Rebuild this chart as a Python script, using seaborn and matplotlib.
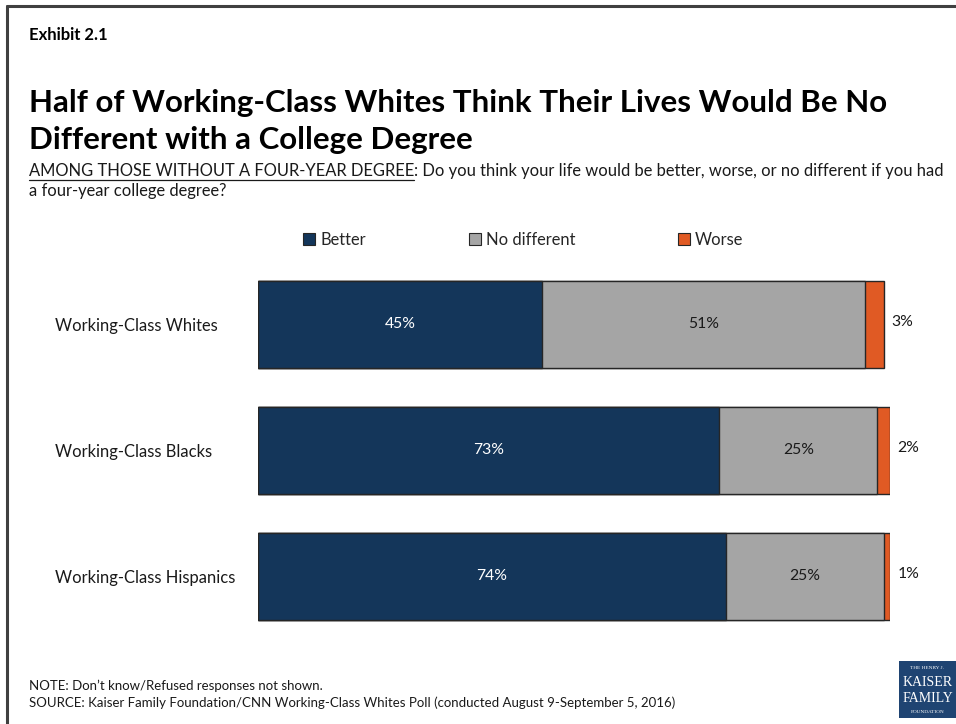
import matplotlib
matplotlib.use("Agg")
import matplotlib.pyplot as plt
from matplotlib.patches import Patch, Rectangle
from matplotlib.lines import Line2D
import seaborn as sns
import pandas as pd

groups = ["Working-Class Whites", "Working-Class Blacks", "Working-Class Hispanics"]
better = [45, 73, 74]
no_different = [51, 25, 25]
worse = [3, 2, 1]
series_names = ["Better", "No different", "Worse"]
colors = ["#14365A", "#A5A5A5", "#E05A24"]

sns.set_theme(style="white")
FONT = ["Lato", "DejaVu Sans"]
plt.rcParams["font.family"] = FONT

W, H = 956, 724
fig = plt.figure(figsize=(W / 100, H / 100), dpi=100)
renderer = fig.canvas.get_renderer()


def fx(px):
    return px / W


def fy(py):
    return 1 - py / H


def size_for(s, width_px, **kw):
    """Font size (pt) at which the string spans width_px pixels."""
    t = fig.text(0, 0, s, fontsize=10, **kw)
    w = t.get_window_extent(renderer=renderer).width
    t.remove()
    return 10 * width_px / w


# Page frame: top rule and left rule
fig.add_artist(Line2D([fx(7), 1.0], [fy(6), fy(6)], color="#404040", lw=2.2))
fig.add_artist(Line2D([fx(7), fx(7)], [fy(6), 0.0], color="#404040", lw=2.2))

# Bar area
ax = fig.add_axes([fx(258), fy(639.5), fx(632), 378 / H])

df = pd.DataFrame({"group": groups, "Better": better,
                   "No different": no_different, "Worse": worse})
df["cum2"] = df["Better"] + df["No different"]
df["cum3"] = df["cum2"] + df["Worse"]

# Stacked bars drawn as overlapping cumulative totals
for col, c in [("cum3", colors[2]), ("cum2", colors[1]), ("Better", colors[0])]:
    sns.barplot(data=df, y="group", x=col, order=groups, color=c, orient="h",
                width=87 / 126, edgecolor="#262626", linewidth=1.0, ax=ax,
                saturation=1)

ax.set_xlim(0, 100)
ax.set_ylim(2.5, -0.5)
ax.set_xlabel("")
ax.set_ylabel("")
ax.set_xticks([])
sns.despine(ax=ax, left=True, bottom=True)

# Category labels, left-aligned in the label column
lab_size = size_for(groups[0], 163)
ax.tick_params(axis="y", length=0, pad=203 * 0.72, labelsize=lab_size)
for lab in ax.get_yticklabels():
    lab.set_ha("left")
    lab.set_color("#1a1a1a")

val_size = size_for("45%", 31)

# Value labels
for i in range(len(groups)):
    ax.text(better[i] / 2, i, f"{better[i]}%", ha="center", va="center",
            color="white", fontsize=val_size)
    ax.text(better[i] + no_different[i] / 2, i, f"{no_different[i]}%",
            ha="center", va="center", color="#1a1a1a", fontsize=val_size)
    ax.text(better[i] + no_different[i] + worse[i] + 1.2, i - 0.02,
            f"{worse[i]}%", ha="left", va="center", color="#1a1a1a",
            fontsize=val_size)

# Legend
leg_size = size_for("No different", 90)
leg_px = leg_size * 100 / 72
handles = [Patch(facecolor=c, edgecolor="#262626", linewidth=0.8) for c in colors]
fig.legend(handles, series_names, loc="center left",
           bbox_to_anchor=(fx(303), fy(240)), ncol=3, frameon=False,
           fontsize=leg_size, handlelength=12 / leg_px, handleheight=12 / leg_px,
           handletextpad=5 / leg_px, columnspacing=103 / leg_px, borderpad=0,
           borderaxespad=0)

# Header texts
fig.text(fx(29), fy(35), "Exhibit 2.1", fontsize=size_for("Exhibit 2.1", 79, fontweight="bold"),
         fontweight="bold", ha="left", va="center", color="black")
title1 = "Half of Working-Class Whites Think Their Lives Would Be No"
t_size = size_for(title1, 861, fontweight="bold")
fig.text(fx(29), fy(103), title1, fontsize=t_size, fontweight="bold",
         ha="left", va="center", color="black")
fig.text(fx(29), fy(140), "Different with a College Degree", fontsize=t_size,
         fontweight="bold", ha="left", va="center", color="black")

# Question text with underlined lead-in
lead_s = "AMONG THOSE WITHOUT A FOUR-YEAR DEGREE"
rest_s = ": Do you think your life would be better, worse, or no different if you had"
q_size = size_for(lead_s + rest_s, 913)
lead = fig.text(fx(29), fy(171), lead_s, fontsize=q_size, ha="left",
                va="center", color="#1a1a1a")
bb = lead.get_window_extent(renderer=renderer)
x0, x1 = bb.x0 / W, bb.x1 / W
fig.add_artist(Line2D([x0, x1], [fy(180), fy(180)], color="#1a1a1a", lw=0.9))
fig.text(x1, fy(171), rest_s, fontsize=q_size, ha="left", va="center",
         color="#1a1a1a")
fig.text(fx(29), fy(191), "a four-year college degree?", fontsize=q_size,
         ha="left", va="center", color="#1a1a1a")

# Footnotes
note_s = "NOTE: Don\u2019t know/Refused responses not shown."
n_size = size_for(note_s, 295)
fig.text(fx(29), fy(686), note_s, fontsize=n_size, ha="left", va="center",
         color="#1a1a1a")
fig.text(fx(29), fy(703),
         "SOURCE: Kaiser Family Foundation/CNN Working-Class Whites Poll (conducted August 9-September 5, 2016)",
         fontsize=n_size, ha="left", va="center", color="#1a1a1a")

# Foundation mark
fig.add_artist(Rectangle((fx(899), fy(718)), fx(57), 57 / H,
                         facecolor="#1F4472", edgecolor="none"))
serif = ["Liberation Serif", "DejaVu Serif"]
fig.text(fx(927.5), fy(668), "THE HENRY J.", fontsize=3.8, color="white",
         ha="center", va="center", family=serif)
fig.text(fx(927.5), fy(682), "KAISER", fontsize=10, color="white",
         ha="center", va="center", family=serif)
fig.text(fx(927.5), fy(699), "FAMILY", fontsize=10, color="white",
         ha="center", va="center", family=serif)
fig.text(fx(927.5), fy(712), "FOUNDATION", fontsize=3.8, color="white",
         ha="center", va="center", family=serif)

fig.savefig("out.png", dpi=100)
